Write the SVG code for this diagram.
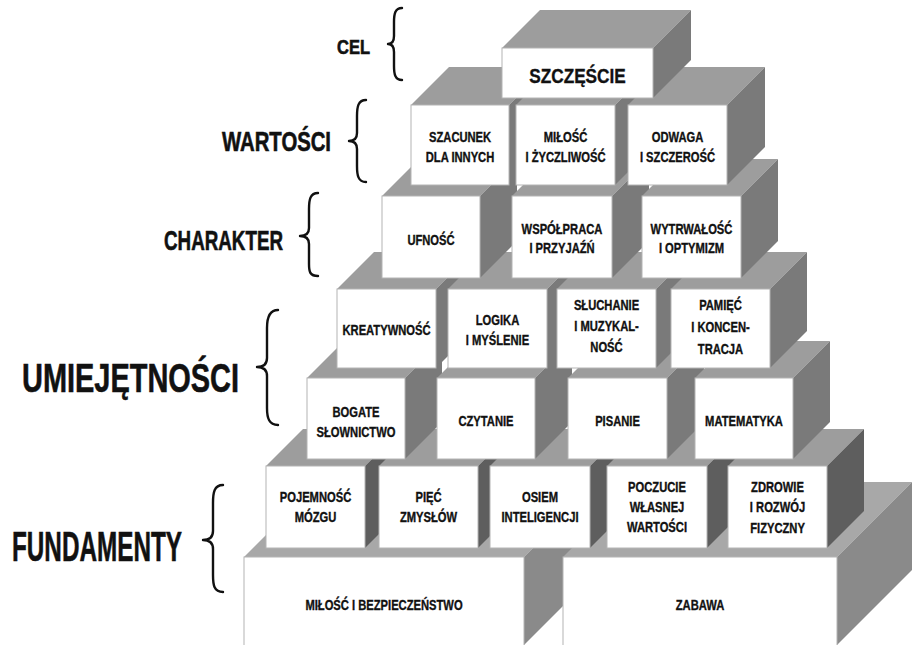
<svg xmlns="http://www.w3.org/2000/svg" width="920" height="645" viewBox="0 0 920 645">
<style>
.front{fill:#ffffff;stroke:#b4b4b4;stroke-width:1}
.top{fill:#9d9d9d}
.side{fill:#7a7a7a}
.side5{fill:#5e5e5e}
.stop{fill:#a8a8a8}
.sside{fill:#8a8a8a}
text{font-family:"Liberation Sans",Arial,sans-serif;font-weight:bold;fill:#111;stroke:#111;stroke-width:0.35}
.t{font-size:14px;text-anchor:middle;transform-box:fill-box;transform-origin:center;transform:scaleX(0.8)}
.big{font-size:21px;text-anchor:middle;transform-box:fill-box;transform-origin:center;transform:scaleX(0.82)}
.lab{text-anchor:start;stroke-width:0.6}
.brace{fill:none;stroke:#111;stroke-width:2.4;stroke-linecap:round;stroke-linejoin:round}
</style>
<rect width="920" height="645" fill="#ffffff"/>

<!-- Row 6: base slabs -->
<g id="milosc-bezpieczenstwo">
<polygon class="stop" points="244,557 319,482 599,482 524,557"/>
<polygon class="sside" points="524,557 599,482 599,570 524,645"/>
<rect class="front" x="244" y="557" width="280" height="90"/>
<text class="t" x="384" y="610">MIŁOŚĆ I BEZPIECZEŃSTWO</text>
</g>
<g id="zabawa">
<polygon class="stop" points="563,557 638,482 912,482 837,557"/>
<polygon class="sside" points="837,557 912,482 912,570 837,645"/>
<rect class="front" x="563" y="557" width="274" height="90"/>
<text class="t" x="700" y="610">ZABAWA</text>
</g>

<!-- Row 5: FUNDAMENTY -->
<g id="pojemnosc-mozgu">
<polygon class="top" points="266,466 303,429 402,429 365,466"/>
<polygon class="side5" points="365,466 402,429 402,511 365,548"/>
<rect class="front" x="266" y="466" width="99" height="82"/>
<text class="t" x="315.5" y="502">POJEMNOŚĆ</text>
<text class="t" x="315.5" y="522">MÓZGU</text>
</g>
<g id="piec-zmyslow">
<polygon class="top" points="379,466 416,429 515,429 478,466"/>
<polygon class="side5" points="478,466 515,429 515,511 478,548"/>
<rect class="front" x="379" y="466" width="99" height="82"/>
<text class="t" x="428.5" y="502">PIĘĆ</text>
<text class="t" x="428.5" y="522">ZMYSŁÓW</text>
</g>
<g id="osiem-inteligencji">
<polygon class="top" points="490,466 527,429 627,429 590,466"/>
<polygon class="side5" points="590,466 627,429 627,511 590,548"/>
<rect class="front" x="490" y="466" width="100" height="82"/>
<text class="t" x="540" y="502">OSIEM</text>
<text class="t" x="540" y="522">INTELIGENCJI</text>
</g>
<g id="poczucie-wartosci">
<polygon class="top" points="607,466 644,429 744,429 707,466"/>
<polygon class="side5" points="707,466 744,429 744,511 707,548"/>
<rect class="front" x="607" y="466" width="100" height="82"/>
<text class="t" x="657" y="492">POCZUCIE</text>
<text class="t" x="657" y="512">WŁASNEJ</text>
<text class="t" x="657" y="532">WARTOŚCI</text>
</g>
<g id="zdrowie-rozwoj">
<polygon class="top" points="728,466 765,429 864,429 827,466"/>
<polygon class="side5" points="827,466 864,429 864,511 827,548"/>
<rect class="front" x="728" y="466" width="99" height="82"/>
<text class="t" x="777.5" y="492">ZDROWIE</text>
<text class="t" x="777.5" y="512">I ROZWÓJ</text>
<text class="t" x="777.5" y="533">FIZYCZNY</text>
</g>

<!-- Row 4 -->
<g id="bogate-slownictwo">
<polygon class="top" points="307,378 344,341 442,341 405,378"/>
<polygon class="side" points="405,378 442,341 442,422 405,459"/>
<rect class="front" x="307" y="378" width="98" height="81"/>
<text class="t" x="356" y="417">BOGATE</text>
<text class="t" x="356" y="437">SŁOWNICTWO</text>
</g>
<g id="czytanie">
<polygon class="top" points="437,378 474,341 572,341 535,378"/>
<polygon class="side" points="535,378 572,341 572,422 535,459"/>
<rect class="front" x="437" y="378" width="98" height="81"/>
<text class="t" x="486" y="426">CZYTANIE</text>
</g>
<g id="pisanie">
<polygon class="top" points="568,378 605,341 704,341 667,378"/>
<polygon class="side" points="667,378 704,341 704,422 667,459"/>
<rect class="front" x="568" y="378" width="99" height="81"/>
<text class="t" x="617.5" y="426">PISANIE</text>
</g>
<g id="matematyka">
<polygon class="top" points="695,378 732,341 830,341 793,378"/>
<polygon class="side" points="793,378 830,341 830,422 793,459"/>
<rect class="front" x="695" y="378" width="98" height="81"/>
<text class="t" x="744" y="426">MATEMATYKA</text>
</g>

<!-- Row 3 -->
<g id="kreatywnosc">
<polygon class="top" points="337,289 374,252 473,252 436,289"/>
<polygon class="side" points="436,289 473,252 473,331 436,368"/>
<rect class="front" x="337" y="289" width="99" height="79"/>
<text class="t" x="386.5" y="335">KREATYWNOŚĆ</text>
</g>
<g id="logika-myslenie">
<polygon class="top" points="448,289 485,252 584,252 547,289"/>
<polygon class="side" points="547,289 584,252 584,331 547,368"/>
<rect class="front" x="448" y="289" width="99" height="79"/>
<text class="t" x="497.5" y="325">LOGIKA</text>
<text class="t" x="497.5" y="345">I MYŚLENIE</text>
</g>
<g id="sluchanie-muzykalnosc">
<polygon class="top" points="557,289 594,252 693,252 656,289"/>
<polygon class="side" points="656,289 693,252 693,331 656,368"/>
<rect class="front" x="557" y="289" width="99" height="79"/>
<text class="t" x="606.5" y="310">SŁUCHANIE</text>
<text class="t" x="606.5" y="331">I MUZYKAL-</text>
<text class="t" x="606.5" y="352">NOŚĆ</text>
</g>
<g id="pamiec-koncentracja">
<polygon class="top" points="671,289 708,252 807,252 770,289"/>
<polygon class="side" points="770,289 807,252 807,331 770,368"/>
<rect class="front" x="671" y="289" width="99" height="79"/>
<text class="t" x="720.5" y="310">PAMIĘĆ</text>
<text class="t" x="720.5" y="332">I KONCEN-</text>
<text class="t" x="720.5" y="354">TRACJA</text>
</g>

<!-- Row 2: CHARAKTER -->
<g id="ufnosc">
<polygon class="top" points="382,196 419,159 517,159 480,196"/>
<polygon class="side" points="480,196 517,159 517,241 480,278"/>
<rect class="front" x="382" y="196" width="98" height="82"/>
<text class="t" x="431" y="245">UFNOŚĆ</text>
</g>
<g id="wspolpraca-przyjazn">
<polygon class="top" points="512,196 549,159 649,159 612,196"/>
<polygon class="side" points="612,196 649,159 649,241 612,278"/>
<rect class="front" x="512" y="196" width="100" height="82"/>
<text class="t" x="562" y="234">WSPÓŁPRACA</text>
<text class="t" x="562" y="253">I PRZYJAŹŃ</text>
</g>
<g id="wytrwalosc-optymizm">
<polygon class="top" points="642,196 679,159 778,159 741,196"/>
<polygon class="side" points="741,196 778,159 778,241 741,278"/>
<rect class="front" x="642" y="196" width="99" height="82"/>
<text class="t" x="691.5" y="234">WYTRWAŁOŚĆ</text>
<text class="t" x="691.5" y="253">I OPTYMIZM</text>
</g>

<!-- Row 1: WARTOŚCI -->
<g id="szacunek">
<polygon class="top" points="411,105 449,67 547,67 509,105"/>
<polygon class="side" points="509,105 547,67 547,147 509,185"/>
<rect class="front" x="411" y="105" width="98" height="80"/>
<text class="t" x="460" y="142">SZACUNEK</text>
<text class="t" x="460" y="162">DLA INNYCH</text>
</g>
<g id="milosc-zyczliwosc">
<polygon class="top" points="516,105 554,67 653,67 615,105"/>
<polygon class="side" points="615,105 653,67 653,147 615,185"/>
<rect class="front" x="516" y="105" width="99" height="80"/>
<text class="t" x="565.5" y="142">MIŁOŚĆ</text>
<text class="t" x="565.5" y="162">I ŻYCZLIWOŚĆ</text>
</g>
<g id="odwaga-szczerosc">
<polygon class="top" points="628,105 666,67 765,67 727,105"/>
<polygon class="side" points="727,105 765,67 765,147 727,185"/>
<rect class="front" x="628" y="105" width="99" height="80"/>
<text class="t" x="677.5" y="142">ODWAGA</text>
<text class="t" x="677.5" y="162">I SZCZEROŚĆ</text>
</g>

<!-- Row 0: CEL -->
<g id="szczescie">
<polygon class="top" points="502,48 540,10 691,10 653,48"/>
<polygon class="side" points="653,48 691,10 691,60 653,98"/>
<rect class="front" x="502" y="48" width="151" height="50"/>
<text class="big" x="577.5" y="83">SZCZĘŚCIE</text>
</g>

<!-- Level labels -->
<g id="label-cel">
<text class="lab" x="337" y="54" font-size="19.5" textLength="33" lengthAdjust="spacingAndGlyphs">CEL</text>
</g>
<g id="label-wartosci">
<text class="lab" x="222" y="151" font-size="27" textLength="109" lengthAdjust="spacingAndGlyphs">WARTOŚCI</text>
</g>
<g id="label-charakter">
<text class="lab" x="164" y="250" font-size="27" textLength="119" lengthAdjust="spacingAndGlyphs">CHARAKTER</text>
</g>
<g id="label-umiejetnosci">
<text class="lab" x="22" y="392" font-size="41" textLength="217" lengthAdjust="spacingAndGlyphs">UMIEJĘTNOŚCI</text>
</g>
<g id="label-fundamenty">
<text class="lab" x="12" y="561" font-size="42" textLength="170" lengthAdjust="spacingAndGlyphs">FUNDAMENTY</text>
</g>

<!-- Braces -->
<g id="braces">
<path class="brace" d="M402,8 C395,8 394,14 394,22 L394,36 C394,41 392,44 388,44 C392,44 394,47 394,52 L394,66 C394,74 395,80 402,80"/>
<path class="brace" d="M366,100 C358,100 357,107 357,116 L357,133 C357,138 354,141 349,141 C354,141 357,144 357,149 L357,166 C357,175 358,182 366,182"/>
<path class="brace" d="M318,193 C310,193 309,200 309,209 L309,228 C309,233 306,236 300,236 C306,236 309,239 309,244 L309,264 C309,272 310,276 318,276"/>
<path class="brace" d="M278,310 C269,310 267,318 267,328 L267,358 C267,364 264,367 257,367 C264,367 267,370 267,376 L267,408 C267,418 269,425 278,425"/>
<path class="brace" d="M223,485 C214,485 213,493 213,503 L213,531 C213,537 210,540 203,540 C210,540 213,543 213,549 L213,575 C213,585 214,592 223,592"/>
</g>
</svg>
